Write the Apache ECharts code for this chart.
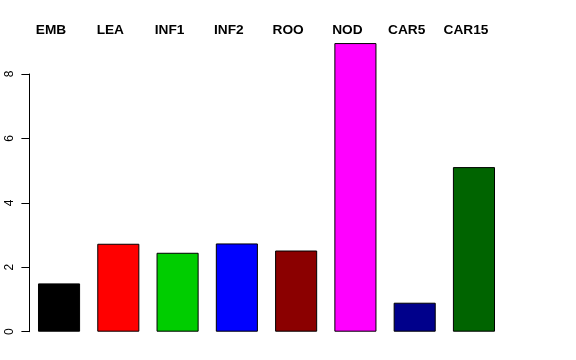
<!DOCTYPE html>
<html>
<head>
<meta charset="utf-8">
<script src="https://cdn.jsdelivr.net/npm/echarts@6/dist/echarts.min.js"></script>
<style>html,body{margin:0;padding:0;background:#fff}#c{width:576px;height:360px}</style>
</head>
<body>
<div id="c"></div>
<script>
var categories = ["EMB", "LEA", "INF1", "INF2", "ROO", "NOD", "CAR5", "CAR15"];
var values = [1.5, 2.73, 2.45, 2.74, 2.52, 8.96, 0.9, 5.11];
var barColors = ["#000000", "#FF0000", "#00CD00", "#0000FF", "#8B0000", "#FF00FF", "#00008B", "#006400"];
var yTicks = [0, 2, 4, 6, 8];

var chart = echarts.init(document.getElementById('c'), null, {renderer: 'canvas'});
chart.setOption({
  animation: false,
  backgroundColor: '#ffffff',
  grid: {left: 29.4, right: 72.4, top: 74, bottom: 28.3, containLabel: false},
  xAxis: {
    type: 'category',
    position: 'top',
    data: categories,
    axisLine: {show: false},
    axisTick: {show: false},
    axisLabel: {
      margin: 37,
      padding: [0, 16, 0, 0],
      fontFamily: 'Liberation Sans, Arial, sans-serif',
      fontWeight: 'bold',
      fontSize: 13.7,
      color: '#000'
    }
  },
  yAxis: {
    type: 'value',
    min: yTicks[0],
    max: yTicks[yTicks.length - 1],
    interval: 2,
    splitLine: {show: false},
    axisLine: {show: true, lineStyle: {color: '#000', width: 1}},
    axisTick: {show: true, length: 8, lineStyle: {color: '#000', width: 1}},
    axisLabel: {
      rotate: 90,
      margin: 14,
      fontFamily: 'Liberation Sans, Arial, sans-serif',
      fontSize: 12,
      color: '#000'
    }
  },
  series: [{
    type: 'bar',
    clip: false,
    data: values.map(function (v, i) {
      return {value: v, itemStyle: {color: barColors[i]}};
    }),
    barCategoryGap: '29%',
    itemStyle: {borderColor: '#000', borderWidth: 1}
  }]
});
</script>
</body>
</html>
